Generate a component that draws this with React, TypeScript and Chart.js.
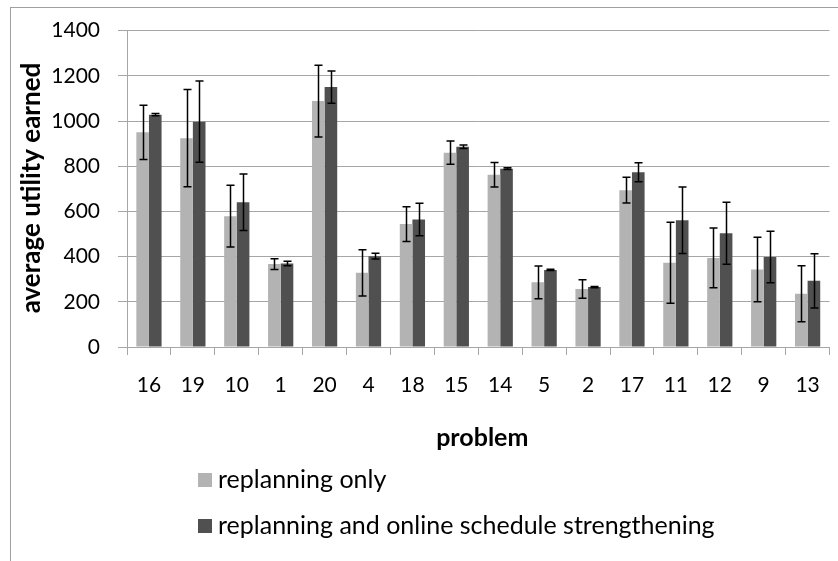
import React, { useEffect, useRef } from "react";
import { Chart, registerables } from "chart.js";

Chart.register(...registerables);

const problems = ["16", "19", "10", "1", "20", "4", "18", "15", "14", "5", "2", "17", "11", "12", "9", "13"];
const replanningOnly = [950, 924, 579, 367, 1088, 328, 544, 860, 762, 286, 257, 694, 373, 394, 343, 236];
const replanningOnlyErr = [120, 215, 137, 24, 159, 102, 77, 51, 54, 72, 41, 57, 179, 132, 143, 124];
const strengthening = [1028, 997, 640, 369, 1150, 402, 564, 886, 789, 341, 265, 773, 561, 503, 398, 293];
const strengtheningErr = [5, 180, 125, 10, 71, 13, 72, 8, 4, 3, 3, 42, 147, 137, 114, 120];
const yTicks = [0, 200, 400, 600, 800, 1000, 1200, 1400];

const seriesNames = ["replanning only", "replanning and online schedule strengthening"];
const FONT = "Lato, 'Open Sans', sans-serif";
const GRID = "#a6a6a6";
const LIGHT = "#b3b3b3";
const DARK = "#505050";

const decorPlugin = {
  id: "decor",
  afterDatasetsDraw(chart: any) {
    const ctx = chart.ctx;
    const yScale = chart.scales.y;
    const errs = [replanningOnlyErr, strengtheningErr];
    ctx.save();
    ctx.strokeStyle = "#000";
    ctx.lineWidth = 1.5;
    chart.data.datasets.forEach((ds: any, di: number) => {
      const meta = chart.getDatasetMeta(di);
      meta.data.forEach((bar: any, i: number) => {
        const v = ds.data[i];
        const e = errs[di][i];
        const x = Math.round(bar.x) + 0.5;
        const yT = yScale.getPixelForValue(v + e);
        const yB = yScale.getPixelForValue(v - e);
        ctx.beginPath();
        ctx.moveTo(x, yT);
        ctx.lineTo(x, yB);
        ctx.moveTo(x - 4, yT);
        ctx.lineTo(x + 4, yT);
        ctx.moveTo(x - 4, yB);
        ctx.lineTo(x + 4, yB);
        ctx.stroke();
      });
    });
    ctx.restore();
  },
  afterDraw(chart: any) {
    const ctx = chart.ctx;
    const area = chart.chartArea;
    ctx.save();
    // chart frame
    ctx.strokeStyle = "#a0a0a0";
    ctx.lineWidth = 1;
    ctx.strokeRect(10.5, 7.5, 1000, 1000);
    // axis titles
    ctx.fillStyle = "#000";
    ctx.textAlign = "center";
    ctx.textBaseline = "middle";
    ctx.font = `bold 25px ${FONT}`;
    ctx.fillText("problem", (area.left + area.right) / 2 + 4, 438);
    ctx.save();
    ctx.translate(32, 188);
    ctx.rotate(-Math.PI / 2);
    ctx.font = `bold 26px ${FONT}`;
    ctx.fillText("average utility earned", 0, 0);
    ctx.restore();
    // legend
    ctx.font = `25px ${FONT}`;
    ctx.textAlign = "left";
    const rows = [480, 526];
    chart.data.datasets.forEach((ds: any, i: number) => {
      const cy = rows[i];
      ctx.fillStyle = ds.backgroundColor;
      ctx.fillRect(198, cy - 7, 14, 14);
      ctx.fillStyle = "#000";
      ctx.fillText(ds.label, 218, cy);
    });
    ctx.restore();
  },
};

export default function App() {
  const ref = useRef<HTMLCanvasElement | null>(null);
  useEffect(() => {
    document.body.style.margin = "0";
    const canvas = ref.current!;
    const chart = new Chart(canvas, {
      type: "bar",
      data: {
        labels: problems,
        datasets: [
          { label: seriesNames[0], data: replanningOnly, backgroundColor: LIGHT, borderWidth: 0 },
          { label: seriesNames[1], data: strengthening, backgroundColor: DARK, borderWidth: 0 },
        ],
      },
      options: {
        responsive: false,
        animation: false,
        devicePixelRatio: 1,
        layout: { padding: { top: 27, right: 7, left: 0, bottom: 0 }, autoPadding: false },
        datasets: { bar: { categoryPercentage: 0.575, barPercentage: 1 } },
        plugins: { legend: { display: false }, tooltip: { enabled: false }, title: { display: false } },
        scales: {
          x: {
            grid: { offset: true, drawOnChartArea: false, drawTicks: true, tickLength: 8, color: GRID, lineWidth: 1 },
            border: { color: GRID, width: 1 },
            ticks: { color: "#000", font: { family: FONT, size: 21 }, padding: 18, maxRotation: 0, autoSkip: false },
            afterFit: (s: any) => { s.height = 561 - 347; },
          },
          y: {
            min: 0,
            max: 1400,
            afterBuildTicks: (s: any) => { s.ticks = yTicks.map((v) => ({ value: v })); },
            grid: { color: GRID, lineWidth: 1, drawTicks: true, tickLength: 9 },
            border: { color: GRID, width: 1 },
            ticks: {
              color: "#000",
              font: { family: FONT, size: 21 },
              padding: 18,
              callback: (v: any) => String(v),
            },
            afterFit: (s: any) => { s.width = 127; },
          },
        },
      },
      plugins: [decorPlugin],
    });
    if ((document as any).fonts && (document as any).fonts.load) {
      Promise.all([
        (document as any).fonts.load(`21px Lato`),
        (document as any).fonts.load(`bold 21px Lato`),
      ]).then(() => chart.update()).catch(() => {});
    }
    return () => chart.destroy();
  }, []);
  return <canvas ref={ref} width={838} height={561} style={{ display: "block", width: 838, height: 561 }} />;
}
